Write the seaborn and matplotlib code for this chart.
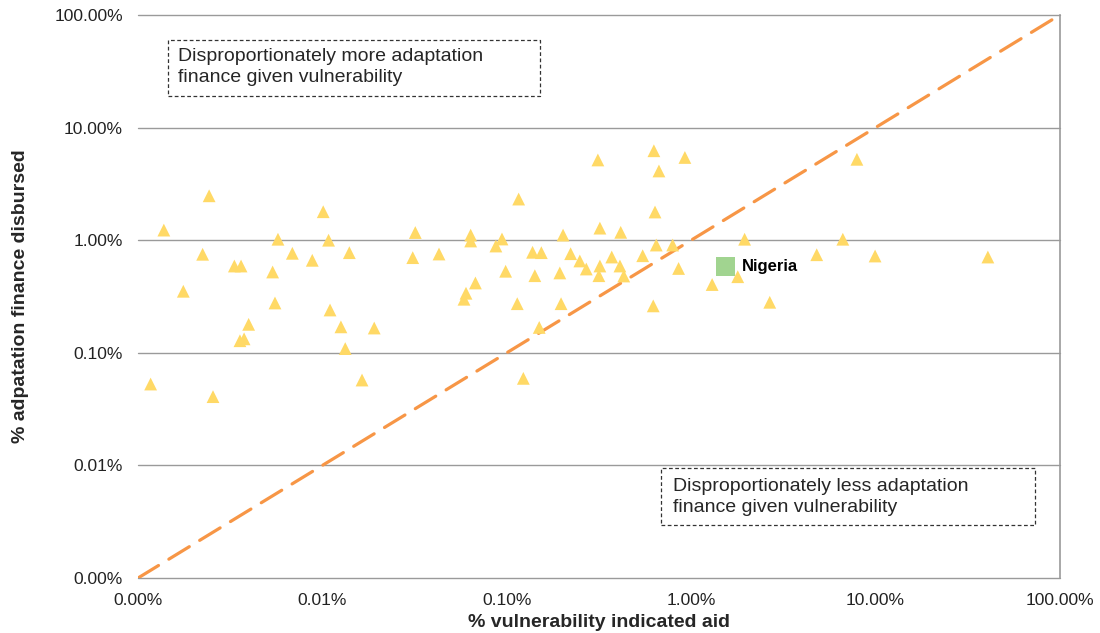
import numpy as np
import pandas as pd
import matplotlib
matplotlib.use("Agg")
import matplotlib.pyplot as plt
import seaborn as sns
from matplotlib.patches import Rectangle
from matplotlib.ticker import FixedLocator, FuncFormatter, NullLocator

# Values, in percent
vulnerability_pct = [
    0.00117, 0.00138, 0.00176, 0.00224, 0.00243, 0.00255, 0.00333, 0.00362, 0.00357, 0.00376,
    0.00398, 0.00537, 0.00553, 0.00574, 0.00687, 0.00881, 0.0101, 0.0108, 0.0110, 0.0126,
    0.0133, 0.0140, 0.0164, 0.0191, 0.0309, 0.0319, 0.0429, 0.0586, 0.0601, 0.0637,
    0.0637, 0.0676, 0.0873, 0.0942, 0.0986, 0.114, 0.116, 0.123, 0.138, 0.142,
    0.150, 0.154, 0.194, 0.197, 0.202, 0.222, 0.249, 0.270, 0.312, 0.316,
    0.320, 0.320, 0.371, 0.411, 0.415, 0.431, 0.546, 0.623, 0.628, 0.637,
    0.647, 0.669, 0.794, 0.855, 0.925, 1.30, 1.79, 1.95, 2.67, 4.80,
    6.65, 7.93, 9.95, 40.7,
]
finance_pct = [
    0.0528, 1.23, 0.352, 0.75, 2.48, 0.0408, 0.59, 0.59, 0.128, 0.133,
    0.179, 0.522, 0.277, 1.02, 0.765, 0.663, 1.79, 1.00, 0.240, 0.170,
    0.109, 0.775, 0.0573, 0.166, 0.700, 1.17, 0.754, 0.299, 0.338, 1.11,
    0.984, 0.417, 0.888, 1.025, 0.530, 0.273, 2.32, 0.0593, 0.781, 0.484,
    0.168, 0.775, 0.512, 0.273, 1.11, 0.759, 0.654, 0.555, 5.16, 0.484,
    1.28, 0.59, 0.709, 0.59, 1.175, 0.481, 0.728, 0.261, 6.23, 1.78,
    0.906, 4.12, 0.906, 0.561, 5.43, 0.404, 0.474, 1.02, 0.281, 0.743,
    1.02, 5.23, 0.724, 0.709,
]
nigeria_x = [1.54]
nigeria_y = [0.582]
nigeria_label = "Nigeria"

tick_values = [0.001, 0.01, 0.1, 1, 10, 100]
parity_line = [0.001, 100]

df = pd.DataFrame({"vuln": vulnerability_pct, "fin": finance_pct})
nig = pd.DataFrame({"vuln": nigeria_x, "fin": nigeria_y})

sns.set_style("white")
plt.rcParams["font.family"] = ["Liberation Sans", "DejaVu Sans"]

fig = plt.figure(figsize=(11, 6.33), dpi=100)
ax = fig.add_axes([0.1255, 0.0869, 0.838, 0.8894])

ax.set_xscale("log")
ax.set_yscale("log")
ax.set_xlim(0.001, 100)
ax.set_ylim(0.001, 100)

# horizontal gridlines only
for v in tick_values:
    ax.axhline(v, color="#9a9a9a", lw=1.0, zorder=0, clip_on=False)

# 1:1 line
ax.plot(parity_line, parity_line, color="#F79646", lw=2.3, dashes=(7.5, 3.8),
        solid_capstyle="round", dash_capstyle="round", zorder=1)

sns.scatterplot(data=df, x="vuln", y="fin", marker="^", s=85, color="#FFD966",
                edgecolor="none", ax=ax, zorder=3, legend=False)
sns.scatterplot(data=nig, x="vuln", y="fin", marker="s", s=190, color="#A1D490",
                edgecolor="none", ax=ax, zorder=4, legend=False)
ax.annotate(nigeria_label, (nigeria_x[0], nigeria_y[0]), xytext=(12, 0),
            textcoords="offset points", va="center", ha="left",
            fontsize=12, fontweight="bold", color="black")

fmt = FuncFormatter(lambda v, p: f"{v:.2f}%")
for axis in (ax.xaxis, ax.yaxis):
    axis.set_major_locator(FixedLocator(tick_values))
    axis.set_minor_locator(NullLocator())
    axis.set_major_formatter(fmt)
ax.tick_params(axis="both", length=0, pad=11, labelsize=12.5, labelcolor="#222222")

ax.set_xlabel("% vulnerability indicated aid", fontsize=14, fontweight="bold", labelpad=4)
ax.set_ylabel("% adpatation finance disbursed", fontsize=14, fontweight="bold", labelpad=18)

for side in ["left", "top", "bottom"]:
    ax.spines[side].set_visible(False)
ax.spines["right"].set_color("#9a9a9a")
ax.spines["right"].set_linewidth(1.2)

# annotation boxes
ax.add_patch(Rectangle((0.0325, 0.8561), 0.4035, 0.0995, transform=ax.transAxes,
                       fill=True, facecolor="white", edgecolor="#333333",
                       lw=0.9, ls=(0, (3, 2)), zorder=5))
ax.text(0.0434, 0.907, "Disproportionately more adaptation\nfinance given vulnerability",
        transform=ax.transAxes, fontsize=14, va="center", ha="left",
        linespacing=1.3, zorder=6)

ax.add_patch(Rectangle((0.5672, 0.0941), 0.4056, 0.1013, transform=ax.transAxes,
                       fill=True, facecolor="white", edgecolor="#333333",
                       lw=0.9, ls=(0, (3, 2)), zorder=5))
ax.text(0.580, 0.144, "Disproportionately less adaptation\nfinance given vulnerability",
        transform=ax.transAxes, fontsize=14, va="center", ha="left",
        linespacing=1.3, zorder=6)

fig.savefig("out.png", dpi=100)
